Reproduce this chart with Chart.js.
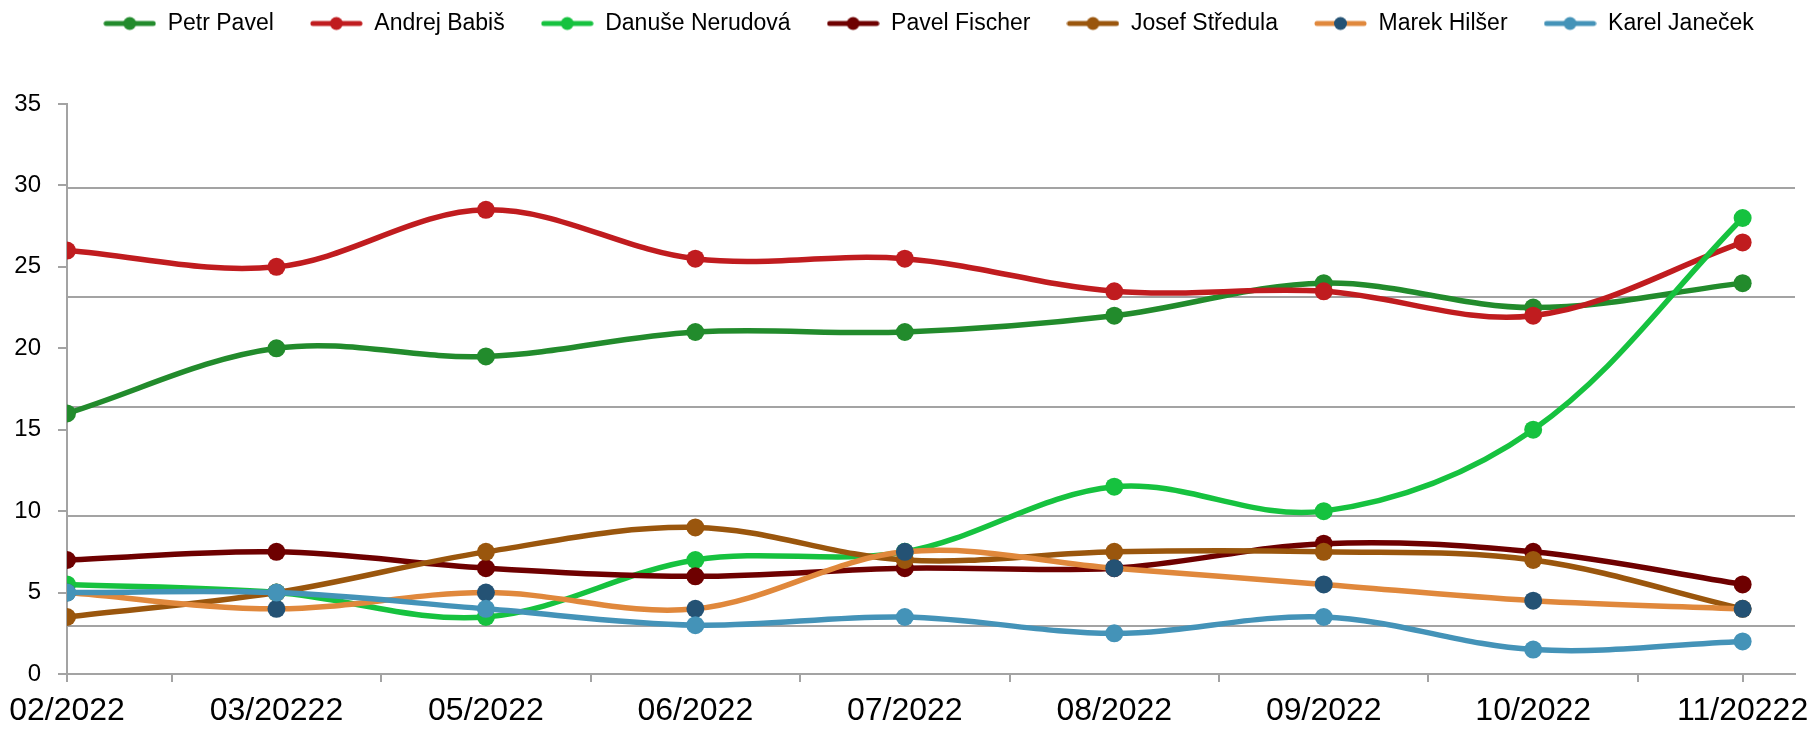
<!DOCTYPE html>
<html>
<head>
<meta charset="utf-8">
<script src="https://cdn.jsdelivr.net/npm/chart.js@4.4.1/dist/chart.umd.min.js"></script>
<style>
html, body { margin: 0; padding: 0; background: #fff; }
#wrap { width: 1810px; height: 729px; }
</style>
</head>
<body>
<div id="wrap"><canvas id="pollChart"></canvas></div>
<script>
const months = ['02/2022', '03/20222', '05/2022', '06/2022', '07/2022', '08/2022', '09/2022', '10/2022', '11/20222'];
const yTicks = [0, 35, 5]; // min, max, step

const petrPavel = [16, 20, 19.5, 21, 21, 22, 24, 22.5, 24];
const andrejBabis = [26, 25, 28.5, 25.5, 25.5, 23.5, 23.5, 22, 26.5];
const danuseNerudova = [5.5, 5, 3.5, 7, 7.5, 11.5, 10, 15, 28];
const pavelFischer = [7, 7.5, 6.5, 6, 6.5, 6.5, 8, 7.5, 5.5];
const josefStredula = [3.5, 5, 7.5, 9, 7, 7.5, 7.5, 7, 4];
const marekHilser = [5, 4, 5, 4, 7.5, 6.5, 5.5, 4.5, 4];
const karelJanecek = [5, 5, 4, 3, 3.5, 2.5, 3.5, 1.5, 2];

const series = [
  { name: 'Petr Pavel', values: petrPavel, line: '#228b2c', dot: '#228b2c' },
  { name: 'Andrej Babiš', values: andrejBabis, line: '#c01c1f', dot: '#c01c1f' },
  { name: 'Danuše Nerudová', values: danuseNerudova, line: '#16c23f', dot: '#16c23f' },
  { name: 'Pavel Fischer', values: pavelFischer, line: '#6e0000', dot: '#6e0000' },
  { name: 'Josef Středula', values: josefStredula, line: '#9a560d', dot: '#9a560d' },
  { name: 'Marek Hilšer', values: marekHilser, line: '#e0883c', dot: '#245274' },
  { name: 'Karel Janeček', values: karelJanecek, line: '#4493b8', dot: '#4493b8' }
];

const axisGray = '#a3a3a3';
const font = 'Liberation Sans';

// little line+dot picture for the legend
function legendIcon(lineColor, dotColor) {
  const c = document.createElement('canvas');
  c.width = 53; c.height = 16;
  const g = c.getContext('2d');
  g.strokeStyle = lineColor;
  g.lineWidth = 5;
  g.lineCap = 'round';
  g.beginPath(); g.moveTo(3, 8); g.lineTo(50, 8); g.stroke();
  g.fillStyle = dotColor;
  g.beginPath(); g.arc(26.5, 8, 6.5, 0, Math.PI * 2); g.fill();
  return c;
}

// leave room under the legend and nudge it to where Excel put it
const legendSpacer = {
  id: 'legendSpacer',
  beforeInit(chart) {
    const fit = chart.legend.fit;
    chart.legend.fit = function () {
      fit.bind(chart.legend)();
      this.height += 35;
    };
  },
  afterLayout(chart) {
    chart.legend.left += 62;
    chart.legend.top -= 24;
  }
};

const datasets = series.map((s, i) => ({
  label: s.name,
  data: s.values.map((v, k) => ({ x: k, y: v })),
  borderColor: s.line,
  backgroundColor: s.dot,
  pointBackgroundColor: s.dot,
  pointBorderColor: s.dot,
  pointBorderWidth: 0,
  pointRadius: 9,
  pointHoverRadius: 9,
  borderWidth: 5.5,
  tension: 0.35,
  order: series.length - i,
  icon: legendIcon(s.line, s.dot)
}));

const ctx = document.getElementById('pollChart').getContext('2d');
const pollChart = new Chart(ctx, {
  type: 'line',
  data: { datasets: datasets },
  plugins: [legendSpacer],
  options: {
    responsive: true,
    maintainAspectRatio: false,
    animation: false,
    layout: { padding: { left: 0, right: 15, top: 0, bottom: 0 } },
    plugins: {
      tooltip: { enabled: false },
      legend: {
        position: 'top',
        labels: {
          font: { family: font, size: 23 },
          color: '#000',
          usePointStyle: true,
          pointStyleWidth: 53,
          padding: 36,
          sort: (a, b) => a.datasetIndex - b.datasetIndex,
          generateLabels(chart) {
            return chart.data.datasets.map((ds, i) => ({
              text: ds.label,
              datasetIndex: i,
              pointStyle: ds.icon,
              fillStyle: 'transparent',
              strokeStyle: 'transparent',
              lineWidth: 0,
              fontColor: '#000',
              hidden: !chart.isDatasetVisible(i)
            }));
          }
        }
      }
    },
    scales: {
      x: {
        type: 'linear',
        min: 0,
        max: months.length - 1 + 0.25,
        border: { color: axisGray, width: 2 },
        grid: {
          drawOnChartArea: false,
          tickLength: 8,
          lineWidth: 2,
          tickColor: (c) => (c.tick && (!Number.isInteger(c.tick.value) || c.tick.value === 0 || c.tick.value === months.length - 1)) ? axisGray : 'transparent'
        },
        ticks: {
          stepSize: 0.5,
          autoSkip: false,
          includeBounds: false,
          maxRotation: 0,
          padding: 10,
          color: '#000',
          font: { family: font, size: 32 },
          callback: (v) => Number.isInteger(v) ? months[v] : ''
        },
        afterFit(scale) {
          scale.paddingLeft = 0;
          scale.paddingRight = 0;
          scale.height = 55;
        }
      },
      y: {
        min: yTicks[0],
        max: yTicks[1],
        border: { color: axisGray, width: 2 },
        grid: { drawOnChartArea: false, tickLength: 9, lineWidth: 2, tickColor: axisGray },
        ticks: {
          stepSize: yTicks[2],
          padding: 17,
          color: '#000',
          font: { family: font, size: 24 }
        },
        afterFit(scale) { scale.width = 67; }
      },
      y2: {
        position: 'right',
        min: -0.438,
        max: 4.762,
        border: { display: false },
        grid: { drawTicks: false, color: axisGray, lineWidth: 2 },
        ticks: { display: false, stepSize: 1, includeBounds: false },
        afterFit(scale) { scale.width = 0; }
      }
    }
  }
});
</script>
</body>
</html>
